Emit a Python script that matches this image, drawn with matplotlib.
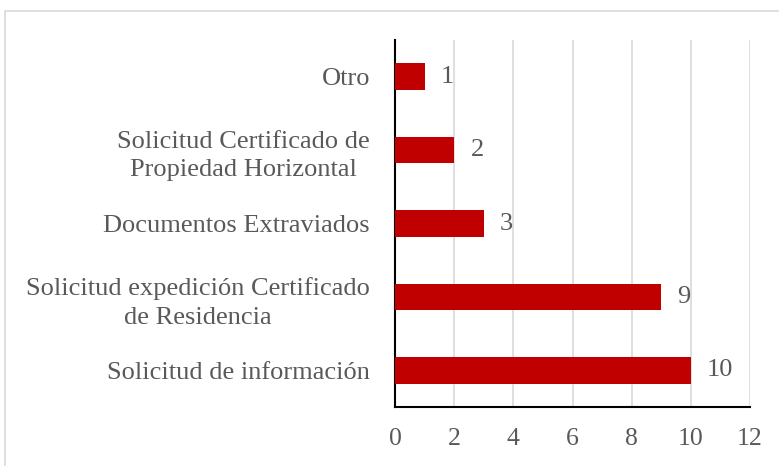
import matplotlib.pyplot as plt
from matplotlib.patches import Rectangle

# Data
categories = ['Solicitud de información',
              'Solicitud expedición Certificado\nde Residencia',
              'Documentos Extraviados',
              'Solicitud Certificado de\nPropiedad Horizontal',
              'Otro']
values = [10, 9, 3, 2, 1]
x_ticks = [0, 2, 4, 6, 8, 10, 12]

plt.rcParams['font.family'] = ['Liberation Serif', 'DejaVu Serif']
text_color = '#595959'
fs = 19

fig = plt.figure(figsize=(7.79, 4.66), dpi=100)
ax = fig.add_axes([395 / 779, 1 - 407 / 466, 355 / 779, 367 / 466])

# outer chart border
fig.patches.append(Rectangle((5 / 779, -0.1), 1.1, (466 - 11) / 466 + 0.1,
                             transform=fig.transFigure, fill=False,
                             edgecolor='#d9d9d9', linewidth=1.2))

ypos = list(range(len(categories)))
ax.barh(ypos, values, height=0.36, color='#c00000', zorder=3)

for y, v in zip(ypos, values):
    ax.text(v + 0.55, y, str(v), va='center', ha='left',
            fontsize=fs, color=text_color)

ax.set_xlim(0, 12)
ax.set_ylim(-0.5, len(categories) - 0.5)
ax.set_xticks(x_ticks)
ax.set_yticks(ypos)
ax.set_yticklabels(categories, fontsize=fs, color=text_color)
for lbl in ax.get_yticklabels():
    lbl.set_multialignment('center')
    lbl.set_linespacing(1.4)
ax.tick_params(axis='x', labelsize=18.5, labelcolor=text_color, length=0, pad=15)
ax.tick_params(axis='y', length=0, pad=18)

ax.grid(axis='x', color='#d9d9d9', linewidth=1.2, zorder=0)
for s in ['top', 'right']:
    ax.spines[s].set_visible(False)
ax.spines['left'].set_color('black')
ax.spines['bottom'].set_color('black')
ax.spines['left'].set_linewidth(1.5)
ax.spines['bottom'].set_linewidth(1.5)

fig.savefig('out.png', dpi=100)
